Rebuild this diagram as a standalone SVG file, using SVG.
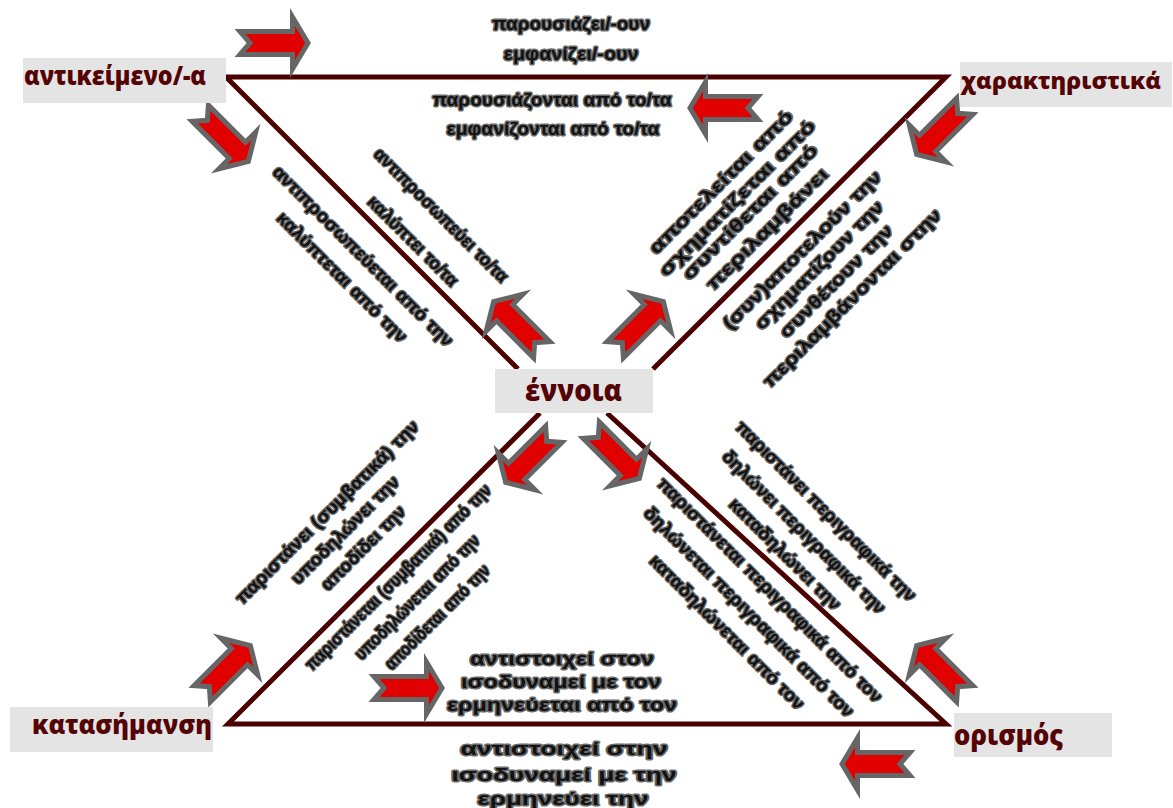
<svg xmlns="http://www.w3.org/2000/svg" xmlns:xlink="http://www.w3.org/1999/xlink" width="1173" height="808" viewBox="0 0 1173 808">
<style>
.bg{fill:#ffffff}
.box{fill:#e4e4e4}
.lbl{font-family:"Open Sans","Noto Sans","DejaVu Sans",sans-serif;font-weight:800;fill:#540404}
.ln{fill:none;stroke:#4a0000;stroke-width:5;stroke-linejoin:miter;stroke-linecap:butt}
.a{font-family:"Liberation Sans","Arial",sans-serif;font-weight:bold;font-size:18px;fill:#111111;stroke:#6a6a6a;stroke-width:2.8px;paint-order:stroke fill;stroke-linejoin:round;text-anchor:middle}
</style>
<defs>
<path id="arr" d="M-35,-11.5 L17.5,-11.5 L17.5,-26 L33,0 L17.5,26 L17.5,11.5 L-35,11.5 L-25,0 Z" fill="#e00000" stroke="#666666" stroke-width="5" stroke-linejoin="miter"/>
</defs>
<rect class="bg" x="0" y="0" width="1173" height="808"/>

<g id="connectors">
<polyline class="ln" points="518,369 226,77 946,77 653,369"/>
<polyline class="ln" points="540,413 228,724 946,724 607,413"/>
</g>

<g id="arrows">
<use xlink:href="#arr" href="#arr" transform="translate(275,43)"/>
<use xlink:href="#arr" href="#arr" transform="translate(723,108) rotate(180)"/>
<use xlink:href="#arr" href="#arr" transform="translate(940,131) rotate(135)"/>
<use xlink:href="#arr" href="#arr" transform="translate(225,138) rotate(45)"/>
<use xlink:href="#arr" href="#arr" transform="translate(517,325) rotate(-135)"/>
<use xlink:href="#arr" href="#arr" transform="translate(640,325) rotate(-45)"/>
<use xlink:href="#arr" href="#arr" transform="translate(529,459) rotate(135)"/>
<use xlink:href="#arr" href="#arr" transform="translate(616,455) rotate(45)"/>
<use xlink:href="#arr" href="#arr" transform="translate(227,669) rotate(-45)"/>
<use xlink:href="#arr" href="#arr" transform="translate(409,688)"/>
<use xlink:href="#arr" href="#arr" transform="translate(940,669) rotate(-135)"/>
<use xlink:href="#arr" href="#arr" transform="translate(875,764) rotate(180)"/>
</g>

<g id="node-antikeimeno">
<rect class="box" x="23" y="58" width="203" height="45"/>
<text class="lbl" x="24" y="85" font-size="26" textLength="182" lengthAdjust="spacingAndGlyphs">αντικείμενο/-α</text>
</g>
<g id="node-xaraktiristika">
<rect class="box" x="960" y="62" width="212" height="45"/>
<text class="lbl" x="961" y="89" font-size="23" textLength="200" lengthAdjust="spacingAndGlyphs">χαρακτηριστικά</text>
</g>
<g id="node-ennoia">
<rect class="box" x="495" y="369" width="158" height="44"/>
<text class="lbl" x="525" y="401" font-size="30" textLength="97" lengthAdjust="spacingAndGlyphs">έννοια</text>
</g>
<g id="node-katasimansi">
<rect class="box" x="10" y="707" width="203" height="45"/>
<text class="lbl" x="32" y="734" font-size="26" textLength="180" lengthAdjust="spacingAndGlyphs">κατασήμανση</text>
</g>
<g id="node-orismos">
<rect class="box" x="954" y="713" width="158" height="44"/>
<text class="lbl" x="954" y="745" font-size="29" font-weight="600" textLength="109" lengthAdjust="spacingAndGlyphs">ορισμός</text>
</g>

<g id="labels">
<text class="a" x="571" y="30" textLength="158" lengthAdjust="spacingAndGlyphs">παρουσιάζει/-ουν</text>
<text class="a" x="571" y="60" textLength="135" lengthAdjust="spacingAndGlyphs">εμφανίζει/-ουν</text>
<text class="a" x="552" y="106" textLength="239" lengthAdjust="spacingAndGlyphs">παρουσιάζονται από το/τα</text>
<text class="a" x="553" y="135" textLength="213" lengthAdjust="spacingAndGlyphs">εμφανίζονται από το/τα</text>

<text class="a" x="562" y="665" textLength="184" lengthAdjust="spacingAndGlyphs">αντιστοιχεί στον</text>
<text class="a" x="561" y="688" textLength="200" lengthAdjust="spacingAndGlyphs">ισοδυναμεί με τον</text>
<text class="a" x="562" y="711" textLength="230" lengthAdjust="spacingAndGlyphs">ερμηνεύεται από τον</text>
<text class="a" x="564" y="755" textLength="207" lengthAdjust="spacingAndGlyphs">αντιστοιχεί στην</text>
<text class="a" x="564" y="781" textLength="225" lengthAdjust="spacingAndGlyphs">ισοδυναμεί με την</text>
<text class="a" x="563" y="805" textLength="171" lengthAdjust="spacingAndGlyphs">ερμηνεύει την</text>

<g transform="translate(441,215) rotate(45)"><text class="a" y="6" textLength="182" lengthAdjust="spacingAndGlyphs">αντιπροσωπεύει το/τα</text></g>
<g transform="translate(413,241) rotate(45)"><text class="a" y="6" textLength="120" lengthAdjust="spacingAndGlyphs">καλύπτει το/τα</text></g>
<g transform="translate(363,256) rotate(45)"><text class="a" y="6" textLength="247" lengthAdjust="spacingAndGlyphs">αντιπροσωπεύεται από την</text></g>
<g transform="translate(342,277) rotate(45)"><text class="a" y="6" textLength="176" lengthAdjust="spacingAndGlyphs">καλύπτεται από την</text></g>

<g transform="translate(721,182) rotate(-45)"><text class="a" y="6" textLength="195" lengthAdjust="spacingAndGlyphs">αποτελείται από</text></g>
<g transform="translate(737,198) rotate(-45)"><text class="a" y="6" textLength="213" lengthAdjust="spacingAndGlyphs">σχηματίζεται από</text></g>
<g transform="translate(750,212) rotate(-45)"><text class="a" y="6" textLength="183" lengthAdjust="spacingAndGlyphs">συντίθεται από</text></g>
<g transform="translate(767,229) rotate(-45)"><text class="a" y="6" textLength="164" lengthAdjust="spacingAndGlyphs">περιλαμβάνει</text></g>

<g transform="translate(802,250) rotate(-45)"><text class="a" y="6" textLength="216" lengthAdjust="spacingAndGlyphs">(συν)αποτελούν την</text></g>
<g transform="translate(819,265) rotate(-45)"><text class="a" y="6" textLength="174" lengthAdjust="spacingAndGlyphs">σχηματίζουν την</text></g>
<g transform="translate(836,281) rotate(-45)"><text class="a" y="6" textLength="152" lengthAdjust="spacingAndGlyphs">συνθέτουν την</text></g>
<g transform="translate(852,298) rotate(-45)"><text class="a" y="6" textLength="244" lengthAdjust="spacingAndGlyphs">περιλαμβάνονται στην</text></g>

<g transform="translate(327,512) rotate(-45)"><text class="a" y="6" textLength="251" lengthAdjust="spacingAndGlyphs">παριστάνει (συμβατικά) την</text></g>
<g transform="translate(345,530) rotate(-45)"><text class="a" y="6" textLength="145" lengthAdjust="spacingAndGlyphs">υποδηλώνει την</text></g>
<g transform="translate(363,548) rotate(-45)"><text class="a" y="6" textLength="112" lengthAdjust="spacingAndGlyphs">αποδίδει την</text></g>

<g transform="translate(398,577) rotate(-45)"><text class="a" y="6" font-size="17" textLength="255" lengthAdjust="spacingAndGlyphs">παριστάνεται (συμβατικά) από την</text></g>
<g transform="translate(417,597) rotate(-45)"><text class="a" y="6" font-size="17" textLength="169" lengthAdjust="spacingAndGlyphs">υποδηλώνεται από την</text></g>
<g transform="translate(437,617) rotate(-45)"><text class="a" y="6" font-size="17" textLength="141" lengthAdjust="spacingAndGlyphs">αποδίδεται από την</text></g>

<g transform="translate(826,511) rotate(45)"><text class="a" y="6" textLength="247" lengthAdjust="spacingAndGlyphs">παριστάνει περιγραφικά την</text></g>
<g transform="translate(804,532) rotate(45)"><text class="a" y="6" textLength="223" lengthAdjust="spacingAndGlyphs">δηλώνει περιγραφικά την</text></g>
<g transform="translate(785,554) rotate(45)"><text class="a" y="6" textLength="150" lengthAdjust="spacingAndGlyphs">καταδηλώνει την</text></g>

<g transform="translate(770,590) rotate(45)"><text class="a" y="6" textLength="310" lengthAdjust="spacingAndGlyphs">παριστάνεται περιγραφικά από τον</text></g>
<g transform="translate(749,612) rotate(45)"><text class="a" y="6" textLength="289" lengthAdjust="spacingAndGlyphs">δηλώνεται περιγραφικά από τον</text></g>
<g transform="translate(727,632) rotate(45)"><text class="a" y="6" textLength="211" lengthAdjust="spacingAndGlyphs">καταδηλώνεται από τον</text></g>
</g>
</svg>
